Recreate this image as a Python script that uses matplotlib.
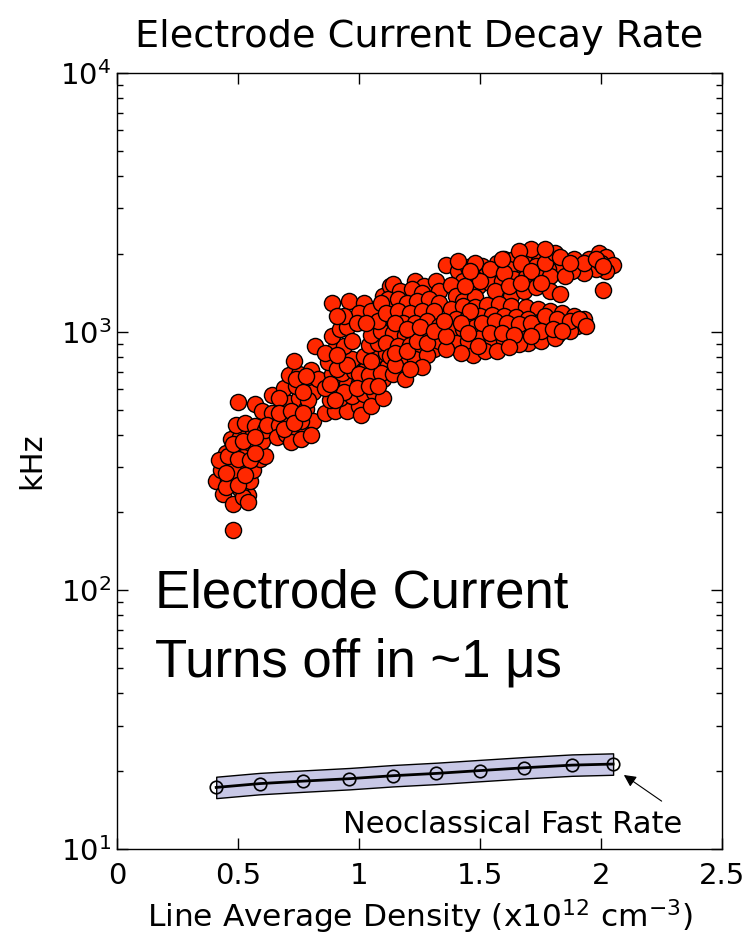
import numpy as np
import matplotlib.pyplot as plt
from matplotlib.ticker import LogLocator, NullFormatter

# measured decay rates: line average density (1e12 cm^-3) and rate (kHz)
density = [
    0.48, 0.41, 0.44, 0.48, 0.54, 0.51, 0.46, 0.50, 0.55, 0.43, 0.47, 0.52, 0.56, 0.59, 0.45,
    0.49, 0.54, 0.58, 0.61, 0.47, 0.51, 0.56, 0.60, 0.49, 0.53, 0.57, 0.50, 0.57, 0.42, 0.52,
    0.48, 0.45, 0.52, 0.54, 0.61,
    0.46, 0.50, 0.55, 0.48, 0.52, 0.57, 0.50, 0.53, 0.45, 0.57,
    0.64, 0.60, 0.64, 0.68, 0.71, 0.75, 0.62, 0.67, 0.71, 0.74, 0.78, 0.66, 0.70, 0.74, 0.77,
    0.81, 0.72, 0.76, 0.80, 0.69, 0.74, 0.78, 0.81, 0.71, 0.75, 0.80, 0.83, 0.73, 0.82, 0.67,
    0.79, 0.76,
    0.67, 0.72, 0.69, 0.73, 0.77, 0.74, 0.78, 0.77,
    0.86, 0.90, 0.95, 1.00, 0.88, 0.92, 0.97, 1.02, 1.06, 0.86, 0.91, 0.95, 1.00, 1.05, 1.10,
    0.89, 0.93, 0.98, 1.03, 1.07, 1.12, 0.87, 0.92, 0.97, 1.02, 1.07, 1.11, 0.90, 0.94, 1.04,
    1.08, 1.12, 0.89, 0.92, 0.95, 1.05, 1.09, 0.86, 1.01, 1.05, 1.10,
    0.91, 0.95, 1.00, 1.04, 1.09, 1.14, 1.19, 0.94, 0.99, 1.04, 1.08, 0.91, 1.05, 0.97, 0.88,
    0.90,
    0.89, 0.96, 1.02, 1.00, 1.05, 1.10, 1.13, 1.18, 1.15, 1.21, 1.24, 1.27, 1.30, 1.08, 1.14,
    1.19, 0.94, 1.12, 1.23, 1.27, 1.09, 0.99, 1.03, 0.91,
    1.14, 1.32, 1.17, 1.22, 1.26, 1.33, 1.16, 1.20, 1.24, 1.29, 1.33, 1.11, 1.16, 1.21, 1.26,
    1.31, 1.18, 1.23, 1.28, 1.33, 1.14, 1.19, 1.24, 1.29, 1.11, 1.16, 1.21, 1.26, 1.31, 1.13,
    1.18, 1.23, 1.28, 1.15, 1.26, 1.21, 1.33, 1.36,
    1.15, 1.20, 1.24, 1.28, 1.15, 1.20, 1.25, 1.31,
    1.36, 1.41, 1.45, 1.51, 1.57, 1.60, 1.64, 1.68, 1.74, 1.78, 1.82, 1.86, 1.91, 1.95, 1.99,
    2.02, 2.05, 2.02, 1.98, 1.93, 1.88, 1.83, 1.78, 1.73, 1.67, 1.62, 1.57, 1.52, 1.48, 1.43,
    1.38, 1.40, 1.45, 1.49, 1.54, 1.59, 1.64, 1.69, 1.74, 1.79, 1.43, 1.48, 1.63, 1.68, 1.73,
    1.79, 1.83, 2.01, 1.71, 1.66, 2.00, 1.85,
    1.48, 1.54, 1.60, 1.67, 1.71, 1.77, 1.81, 1.89, 1.93, 1.98, 2.01, 1.50, 1.56, 1.62, 1.67,
    1.75, 1.41, 1.44, 1.46, 1.59, 1.77, 1.83, 1.87,
    1.38, 1.43, 1.48, 1.53, 1.58, 1.63, 1.69, 1.74, 1.79, 1.84, 1.89, 1.93, 1.40, 1.45, 1.50,
    1.55, 1.60, 1.65, 1.70, 1.75, 1.80, 1.85, 1.90, 1.38, 1.43, 1.48, 1.52, 1.57, 1.62, 1.67,
    1.72, 1.77, 1.82, 1.87, 1.40, 1.45, 1.50, 1.55, 1.60, 1.65, 1.70, 1.75, 1.81, 1.47, 1.52,
    1.57, 1.66, 1.42, 1.36, 1.36, 1.35,
    1.46, 1.51, 1.56, 1.61, 1.66, 1.71, 1.77, 1.82, 1.87, 1.91, 1.42, 1.45, 1.54, 1.59, 1.64,
    1.75, 1.80, 1.49, 1.62, 1.71, 1.84, 1.94,
]
rate = [
    171, 264, 235, 215, 233, 247, 266, 276, 264, 293, 302, 302, 293, 321, 341,
    347, 353, 360, 332, 386, 393, 401, 379, 437, 445, 430, 537, 527, 318, 329,
    291, 250, 229, 219, 415,
    332, 321, 318, 369, 379, 341, 255, 278, 285, 393,
    567, 495, 486, 504, 532, 552, 434, 437, 453, 478, 504, 393, 401, 415, 434,
    453, 373, 386, 397, 603, 619, 630, 582, 677, 689, 714, 659, 773, 884, 552,
    542, 453,
    486, 495, 421, 445, 486, 659, 671, 582,
    486, 495, 495, 518, 542, 552, 562, 572, 582, 603, 614, 625, 636, 647, 659,
    683, 695, 707, 720, 733, 746, 760, 773, 787, 802, 816, 830, 860, 884, 892,
    908, 923, 966, 1027, 1046, 975, 1009, 830, 478, 518, 552,
    720, 740, 683, 677, 695, 683, 659, 582, 603, 614, 619, 809, 773, 923, 625,
    542,
    1295, 1318, 1295, 1184, 1205, 1379, 1508, 1416, 1262, 1318, 1440, 1284, 1508, 1103, 1122,
    1154, 1154, 1342, 1575, 1508, 1295, 1084, 1084, 1154,
    1535, 1575, 1440, 1465, 1416, 1440, 1342, 1295, 1318, 1342, 1295, 1184, 1205, 1184, 1205,
    1205, 1084, 1084, 1103, 1056, 992, 975, 992, 966, 908, 884, 892, 876, 860, 802,
    802, 787, 809, 740, 733, 720, 923, 1009,
    830, 845, 923, 908, 1084, 1027, 1046, 1009,
    1816, 1720, 1784, 1800, 1848, 1913, 1913, 1968, 2020, 1950, 1880, 1832, 1800, 1913, 2020,
    1950, 1816, 1720, 1752, 1690, 1720, 1752, 1752, 1800, 1752, 1752, 1690, 1646, 1603, 1575,
    1521, 1379, 1440, 1508, 1548, 1575, 1603, 1632, 1632, 1646, 1318, 1367, 1379, 1440, 1494,
    1440, 1404, 1453, 2092, 2056, 1848, 1646,
    1848, 1752, 1690, 1848, 1720, 1848, 2020, 1913, 1848, 1913, 1800, 1575, 1440, 1508, 1548,
    1548, 1880, 1508, 1720, 1913, 2092, 1950, 1848,
    1227, 1262, 1250, 1273, 1284, 1262, 1250, 1227, 1205, 1184, 1154, 1122, 1122, 1143, 1154,
    1164, 1154, 1143, 1122, 1103, 1084, 1056, 1056, 1009, 1027, 1046, 1056, 1037, 1027, 1009,
    1009, 992, 975, 1009, 908, 923, 941, 949, 932, 923, 908, 923, 941, 809, 845,
    845, 900, 830, 860, 966, 1103,
    1205, 1084, 1103, 1084, 1066, 1084, 1154, 1122, 1103, 1122, 1084, 992, 992, 984, 975,
    1009, 1027, 884, 876, 958, 1009, 1056,
]

# neoclassical prediction
nc_density = [0.41, 0.59, 0.77, 0.96, 1.14, 1.32, 1.50, 1.68, 1.88, 2.05]
nc_rate = [17.3, 17.9, 18.3, 18.7, 19.2, 19.6, 20.1, 20.6, 21.1, 21.3]

fig = plt.figure(figsize=(7.47, 9.42), dpi=100)
ax = fig.add_axes([117 / 747, 1 - 849 / 942, 605 / 747, 776 / 942])
plt.rcParams['mathtext.fontset'] = 'dejavusans'

ax.scatter(density, rate, s=135, c='#ff2800', edgecolors='black', linewidths=1.0, zorder=3)

# shaded band around the neoclassical line
nc_rate = np.array(nc_rate)
ax.fill_between(nc_density, nc_rate / 1.1, nc_rate * 1.1, facecolor='#c8c8e6',
                edgecolor='black', linewidth=1.0, zorder=2)
ax.plot(nc_density, nc_rate, '-o', color='black', linewidth=2.0, markersize=9,
        markerfacecolor='none', markeredgewidth=1.2, zorder=4)

ax.annotate('Neoclassical Fast Rate', xy=(2.095, 19.3), xytext=(0.934, 11.5),
            fontsize=22, family='DejaVu Sans', va='baseline', ha='left')
ax.annotate('', xy=(2.085, 19.6), xytext=(2.26, 15.1),
            arrowprops=dict(arrowstyle='-|>', color='black', lw=0.8, mutation_scale=18))

# baseline alignment refers to the last line of the text
ax.text(0.157, 46.6, 'Electrode Current\nTurns off in ~1 \u03bcs', fontsize=38,
        family='Liberation Sans', va='baseline', ha='left', linespacing=1.47)

ax.set_yscale('log')
ax.set_xlim(0, 2.5)
ax.set_ylim(10, 1e4)
ax.set_xticks([0, 0.5, 1, 1.5, 2, 2.5])
ax.set_xticklabels(['0', '0.5', '1', '1.5', '2', '2.5'])
ax.yaxis.set_minor_locator(LogLocator(base=10, subs=np.arange(2, 10)))
ax.yaxis.set_minor_formatter(NullFormatter())

ax.tick_params(which='both', direction='in', top=True, right=True, width=1.0, labelsize=21)
ax.tick_params(which='major', length=8)
ax.tick_params(which='minor', length=4)
ax.tick_params(axis='x', pad=9)
ax.tick_params(axis='y', pad=4)
for s in ax.spines.values():
    s.set_linewidth(1.0)

ax.set_title('Electrode Current Decay Rate', fontsize=27.5, pad=19)
ax.set_xlabel('Line Average Density (x10$^{12}$ cm$^{-3}$)', fontsize=22.5, labelpad=6)
ax.set_ylabel('kHz', fontsize=22, labelpad=10)

plt.savefig('out.png', dpi=100)
